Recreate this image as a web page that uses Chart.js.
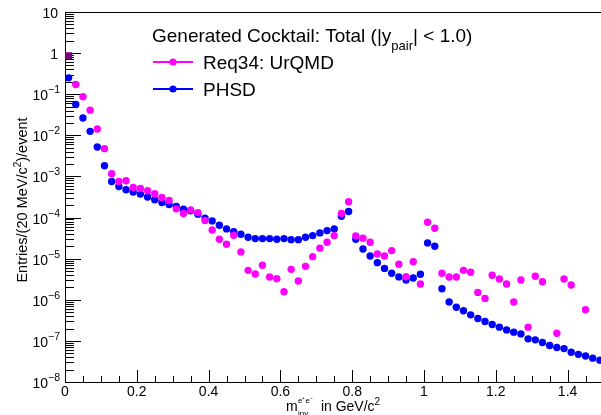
<!DOCTYPE html>
<html>
<head>
<meta charset="utf-8">
<script src="https://cdn.jsdelivr.net/npm/chart.js@4.4.0/dist/chart.umd.min.js"></script>
<style>
html, body { margin: 0; padding: 0; background: #fff; overflow: hidden; }
#wrap { width: 610px; height: 415px; }
</style>
</head>
<body>
<div id="wrap"><canvas id="c" width="610" height="415"></canvas></div>
<script>
// invariant mass bin centres (GeV/c^2), 20 MeV bins
const massBins = [
  0.01, 0.03, 0.05, 0.07, 0.09, 0.11, 0.13, 0.15, 0.17, 0.19,
  0.21, 0.23, 0.25, 0.27, 0.29, 0.31, 0.33, 0.35, 0.37, 0.39,
  0.41, 0.43, 0.45, 0.47, 0.49, 0.51, 0.53, 0.55, 0.57, 0.59,
  0.61, 0.63, 0.65, 0.67, 0.69, 0.71, 0.73, 0.75, 0.77, 0.79,
  0.81, 0.83, 0.85, 0.87, 0.89, 0.91, 0.93, 0.95, 0.97, 0.99,
  1.01, 1.03, 1.05, 1.07, 1.09, 1.11, 1.13, 1.15, 1.17, 1.19,
  1.21, 1.23, 1.25, 1.27, 1.29, 1.31, 1.33, 1.35, 1.37, 1.39,
  1.41, 1.43, 1.45, 1.47, 1.49
]

// Req34: UrQMD (empty bins are null)
const urqmd = [
  0.865, 0.173, 0.0865, 0.041, 0.0143, 4.74e-3, 1.16e-3, 7.55e-4, 7.85e-4, 5.4e-4,
  5.1e-4, 4.48e-4, 3.79e-4, 3.08e-4, 2.6e-4, 1.63e-4, 1.25e-4, 1.54e-4, 1.32e-4, 8.45e-5,
  5.0e-5, 2.97e-5, 2.25e-5, 3.72e-5, 1.46e-5, 5.2e-6, 4.24e-6, 6.9e-6, 3.58e-6, 3.25e-6,
  1.57e-6, 5.5e-6, 2.86e-6, 6.5e-6, 1.12e-5, 1.8e-5, 2.5e-5, 3.64e-5, 1.25e-4, 2.42e-4,
  3.58e-5, 3.15e-5, 2.5e-5, 1.3e-5, 1.16e-5, 1.57e-5, 7.3e-6, 3.64e-6, 8.45e-6, 2.42e-6,
  7.7e-5, 5.5e-5, 4.4e-6, 3.58e-6, 3.58e-6, 5.2e-6, 4.66e-6, 1.51e-6, 1.08e-6, 3.94e-6,
  3.2e-6, 2.42e-6, 8.8e-7, 3.02e-6, 2.16e-7, 3.72e-6, 2.75e-6, null, 1.54e-7, 3.2e-6,
  2.29e-6, null, 5.7e-7, null, null
]

// PHSD
const phsd = [
  0.25, 0.056, 0.0265, 0.0125, 5.2e-3, 1.82e-3, 7.55e-4, 5.7e-4, 4.74e-4, 4.17e-4,
  3.72e-4, 3.15e-4, 2.7e-4, 2.32e-4, 2.07e-4, 1.85e-4, 1.6e-4, 1.46e-4, 1.21e-4, 9.7e-5,
  8.3e-5, 6.5e-5, 5.3e-5, 4.56e-5, 3.94e-5, 3.33e-5, 3.08e-5, 3.08e-5, 3.08e-5, 2.97e-5,
  3.08e-5, 2.9e-5, 2.9e-5, 3.33e-5, 3.64e-5, 4.23e-5, 4.82e-5, 5.3e-5, 1.08e-4, 1.4e-4,
  2.97e-5, 1.72e-5, 1.16e-5, 8.0e-6, 5.8e-6, 4.4e-6, 3.6e-6, 3.02e-6, 3.38e-6, 4.17e-6,
  2.42e-5, 2.0e-5, 1.85e-6, 8.8e-7, 6.6e-7, 5.4e-7, 4.3e-7, 3.5e-7, 2.97e-7, 2.5e-7,
  2.16e-7, 1.85e-7, 1.63e-7, 1.48e-7, 1.12e-7, 1.06e-7, 9.1e-8, 7.7e-8, 6.9e-8, 6.5e-8,
  5.3e-8, 4.7e-8, 4.3e-8, 3.8e-8, 3.4e-8
]

const seriesNames = ['Req34: UrQMD', 'PHSD']
const xTickLabels = ['0', '0.2', '0.4', '0.6', '0.8', '1', '1.2', '1.4']
const xTickValues = [0, 0.2, 0.4, 0.6, 0.8, 1.0, 1.2, 1.4]
const yTickPowers = [-8, -7, -6, -5, -4, -3, -2, -1, 0, 1]

const FONT = '"Liberation Sans", Arial, Helvetica, sans-serif'

const toPoints = (vals) => massBins.map((m, i) => ({ x: m, y: vals[i] }))

// text with super/subscript pieces: [[text, 'n'|'sup'|'sub'], ...]
function richWidth(ctx, parts, size, small) {
  let w = 0
  parts.forEach(([t, k]) => {
    ctx.font = (k === 'n' ? size : small) + 'px ' + FONT
    w += ctx.measureText(t).width
  })
  return w
}
function drawRich(ctx, parts, x, y, size, small, supDy, subDy) {
  let cx = x
  parts.forEach(([t, k]) => {
    ctx.font = (k === 'n' ? size : small) + 'px ' + FONT
    const dy = k === 'sup' ? -supDy : (k === 'sub' ? subDy : 0)
    ctx.fillText(t, cx, y + dy)
    cx += ctx.measureText(t).width
  })
}

const rootFrame = {
  id: 'rootFrame',
  beforeDatasetsDraw(chart) {
    const { ctx, chartArea: a, scales: { x, y } } = chart
    ctx.save()
    ctx.strokeStyle = '#000'
    ctx.lineWidth = 1
    ctx.strokeRect(Math.round(a.left) + 0.5, Math.round(a.top) + 0.5,
      Math.round(a.right - a.left), Math.round(a.bottom - a.top))

    // y ticks, inward from the left axis
    ctx.beginPath()
    yTickPowers.forEach(p => {
      for (let m = 1; m < 10; m++) {
        const v = m * Math.pow(10, p)
        if (v > 10.0001) break
        const py = Math.round(y.getPixelForValue(v)) + 0.5
        const len = m === 1 ? 16 : 9
        ctx.moveTo(a.left, py)
        ctx.lineTo(a.left + len, py)
      }
    })
    // x ticks, upward from the bottom axis
    for (let i = 0; i <= 30; i++) {
      const v = i * 0.05
      const px = Math.round(x.getPixelForValue(v)) + 0.5
      const len = (i % 4 === 0) ? 12 : 6
      ctx.moveTo(px, a.bottom)
      ctx.lineTo(px, a.bottom - len)
    }
    ctx.stroke()

    ctx.fillStyle = '#000'
    ctx.textBaseline = 'alphabetic'
    // y labels
    yTickPowers.forEach(p => {
      const py = y.getPixelForValue(Math.pow(10, p))
      let parts
      if (p === 0) parts = [['1', 'n']]
      else if (p === 1) parts = [['10', 'n']]
      else parts = [['10', 'n'], [String(p).replace('-', '\u2212'), 'sup']]
      const w = richWidth(ctx, parts, 14, 10.5)
      const right = parts.length > 1 ? 60 : 58
      ctx.textAlign = 'left'
      drawRich(ctx, parts, right - w, py + 6, 14, 10.5, 7, 0)
    })
    // x labels
    ctx.font = '14px ' + FONT
    ctx.textAlign = 'center'
    xTickValues.forEach((v, i) => {
      ctx.fillText(xTickLabels[i], x.getPixelForValue(v), 396)
    })

    // x title
    ctx.textAlign = 'left'
    ctx.font = '14px ' + FONT
    ctx.fillText('m', 286, 411)
    ctx.font = '8px ' + FONT
    ctx.fillText('e\u207Ae\u207B', 298, 403)
    ctx.fillText('inv', 298, 416)
    drawRich(ctx, [[' in GeV/c', 'n'], ['2', 'sup']], 317, 411, 14, 10, 6, 0)

    // y title
    ctx.save()
    ctx.translate(26.5, 200)
    ctx.rotate(-Math.PI / 2)
    const yt = [['Entries/(20 MeV/c', 'n'], ['2', 'sup'], [')/event', 'n']]
    const yw = richWidth(ctx, yt, 14.5, 10)
    drawRich(ctx, yt, -yw / 2, 0, 14.5, 10, 6, 0)
    ctx.restore()
    ctx.restore()
  },
  afterDraw(chart) {
    const { ctx } = chart
    ctx.save()
    ctx.fillStyle = '#000'
    ctx.textAlign = 'left'
    ctx.textBaseline = 'alphabetic'
    drawRich(ctx, [['Generated Cocktail: Total (|y', 'n'], ['pair', 'sub'], ['| < 1.0)', 'n']],
      152, 41.5, 19, 13, 0, 8)
    const rows = [[62, '#ff00ff'], [89, '#0000ff']]
    rows.forEach(([ly, col], i) => {
      ctx.strokeStyle = col
      ctx.lineWidth = 2
      ctx.beginPath()
      ctx.moveTo(153, ly)
      ctx.lineTo(193, ly)
      ctx.stroke()
      ctx.fillStyle = col
      ctx.beginPath()
      ctx.arc(173, ly, 3.6, 0, Math.PI * 2)
      ctx.fill()
      ctx.fillStyle = '#000'
      ctx.font = '19px ' + FONT
      ctx.fillText(seriesNames[i], 203, ly + 6.5)
    })
    ctx.restore()
  }
}

new Chart(document.getElementById('c').getContext('2d'), {
  type: 'scatter',
  data: {
    datasets: [
      {
        label: seriesNames[0],
        data: toPoints(urqmd),
        backgroundColor: ctx => ctx.dataIndex === 0 ? '#800080' : '#ff00ff',
        borderColor: ctx => ctx.dataIndex === 0 ? '#800080' : '#ff00ff',
        pointStyle: ctx => ctx.dataIndex === 0 ? 'rect' : 'circle',
        pointRadius: ctx => ctx.dataIndex === 0 ? 5 : 3.7,
        borderWidth: 0
      },
      {
        label: seriesNames[1],
        data: toPoints(phsd),
        backgroundColor: '#0000ff',
        borderColor: '#0000ff',
        pointRadius: 3.7,
        borderWidth: 0
      }
    ]
  },
  options: {
    responsive: false,
    animation: false,
    devicePixelRatio: 1,
    layout: { padding: { left: 65, top: 12, right: 6.5, bottom: 33 } },
    plugins: { legend: { display: false }, tooltip: { enabled: false } },
    scales: {
      x: { type: 'linear', min: 0, max: 1.5, display: false },
      y: { type: 'logarithmic', min: 1e-8, max: 10, display: false }
    }
  },
  plugins: [rootFrame]
})
</script>
</body>
</html>
